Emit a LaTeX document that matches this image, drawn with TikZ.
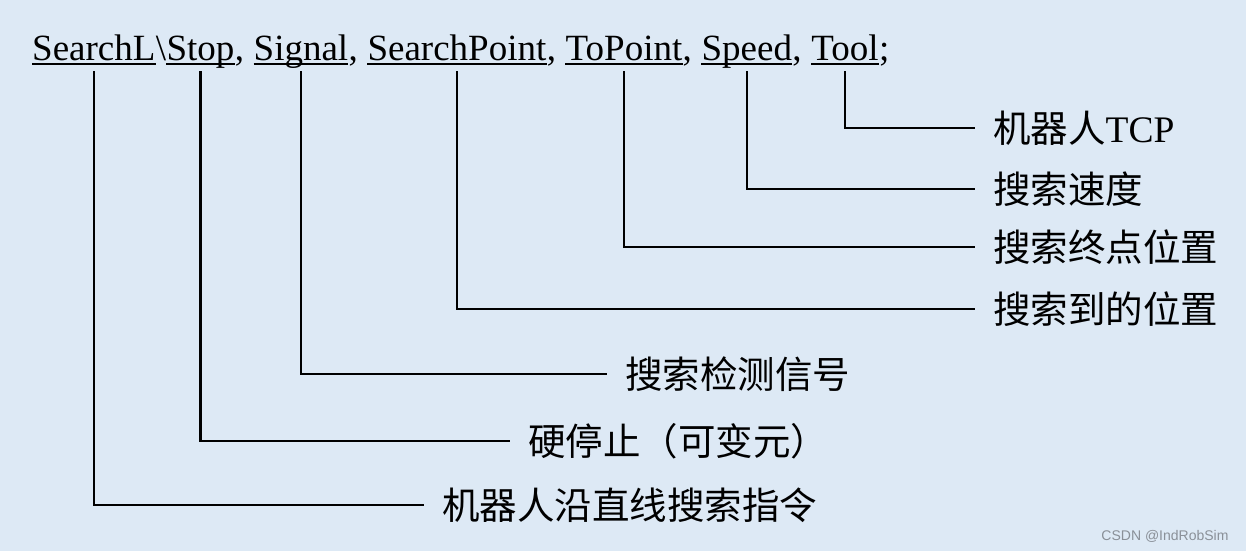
\documentclass[tikz,border=0pt]{standalone}
\usepackage{fontspec}
\setmainfont{Liberation Serif}
\setsansfont{Liberation Sans}
\newfontfamily\cjk{Noto Sans CJK SC}
\usepackage{xcolor}
\definecolor{paper}{HTML}{DDE9F5}
\definecolor{ink}{HTML}{000000}
\definecolor{muted}{HTML}{8A9098}
\usepackage{tikz}
\usetikzlibrary{positioning,calc}
\tikzset{
  arg/.style={inner sep=0pt,font=\fontsize{37}{44}\selectfont,text=ink},
  lbl/.style={anchor=west,inner xsep=18pt,inner ysep=0pt,font=\fontsize{37.5}{44}\selectfont,text=ink},
  wire/.style={draw=ink,line width=2.2pt},
  uline/.style={draw=ink,line width=1.5pt},
}

\begin{document}
\begin{tikzpicture}[x=1pt,y=-1pt]
  \fill[paper] (0,0) rectangle (1246,551);
  \useasboundingbox (0,0) rectangle (1246,551);
  % instruction line
  \node[arg,anchor=base west] (sl) at (32,60) {SearchL};
  \node[arg,base right=0pt of sl] (bs) {\textbackslash};
  \node[arg,base right=0pt of bs] (st) {Stop};
  \node[arg,base right=0pt of st] (k1) {,};
  \node[arg,base right=9.25pt of k1] (sg) {Signal};
  \node[arg,base right=0pt of sg] (k2) {,};
  \node[arg,base right=9.25pt of k2] (sp) {SearchPoint};
  \node[arg,base right=0pt of sp] (k3) {,};
  \node[arg,base right=9.25pt of k3] (tp) {ToPoint};
  \node[arg,base right=0pt of tp] (k4) {,};
  \node[arg,base right=9.25pt of k4] (sd) {Speed};
  \node[arg,base right=0pt of sd] (k5) {,};
  \node[arg,base right=9.25pt of k5] (tl) {Tool};
  \node[arg,base right=0pt of tl] (k6) {;};
  \foreach \w in {sl,st,sg,sp,tp,sd,tl}
    \draw[uline] ($(\w.base west)+(0,4)$) -- ($(\w.base east)+(0,4)$);
  % meanings
  \node[lbl] (l1) at (975,128) {{\cjk 机器人}TCP};
  \node[lbl] (l2) at (975,189) {\cjk 搜索速度};
  \node[lbl] (l3) at (975,247) {\cjk 搜索终点位置};
  \node[lbl] (l4) at (975,309) {\cjk 搜索到的位置};
  \node[lbl] (l5) at (607,374) {\cjk 搜索检测信号};
  \node[lbl] (l6) at (510,441) {\cjk 硬停止（可变元）};
  \node[lbl] (l7) at (424,505) {\cjk 机器人沿直线搜索指令};
  \foreach \w/\l in {tl/l1,sd/l2,tp/l3,sp/l4,sg/l5,st/l6,sl/l7}
    \draw[wire] ($(\w.base)+(0,11)$) |- (\l.west);
  \node[anchor=east,font=\sffamily\fontsize{14}{16}\selectfont,text=muted] (wm) at (1232,536) {CSDN @IndRobSim};
\end{tikzpicture}
\end{document}
